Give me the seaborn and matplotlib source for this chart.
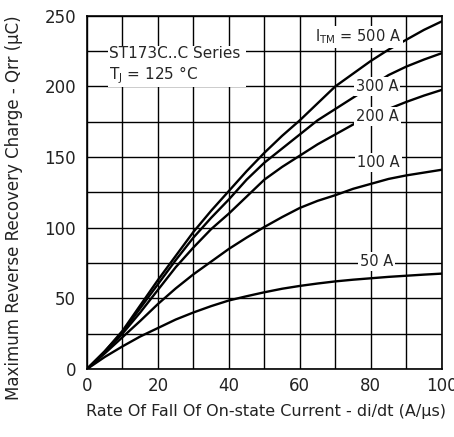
import numpy as np
import pandas as pd
import seaborn as sns
import matplotlib.pyplot as plt
from matplotlib.patches import Rectangle

# di/dt (A/us) sample points
didt = [0, 5, 10, 15, 20, 25, 30, 35, 40, 45, 50,
        55, 60, 65, 70, 75, 80, 85, 90, 95, 100]

# Qrr (uC), one list per I_TM
qrr_500 = [0, 12.5, 27, 45, 63, 80, 97, 112, 126, 140, 153,
           165, 176, 188, 200, 209, 218, 226, 233, 240, 246]
qrr_300 = [0, 12.5, 26, 43, 60, 77, 93, 107, 120, 134, 146,
           156, 166, 176, 184, 192, 200, 208, 214, 219, 223.5]
qrr_200 = [0, 12, 25, 40, 56, 72, 86, 99, 110, 122, 134,
           143, 151, 159, 166, 173, 179, 184, 189, 193.5, 197.5]
qrr_100 = [0, 11, 22.5, 34, 46, 57, 67, 76, 85, 93, 100.5,
           107.5, 114, 119, 123, 127.5, 131, 134.5, 137, 139, 141]
qrr_50 = [0, 8.5, 16, 23, 29, 35, 40, 44.5, 48.5, 51.5, 54.3,
          56.8, 58.8, 60.5, 62, 63.2, 64.2, 65.2, 66, 66.8, 67.5]

series = {"500 A": qrr_500, "300 A": qrr_300, "200 A": qrr_200,
          "100 A": qrr_100, "50 A": qrr_50}

rows = []
for name, vals in series.items():
    for x, y in zip(didt, vals):
        rows.append({"didt": x, "qrr": y, "itm": name})
df = pd.DataFrame(rows)

sns.set_style("white")
plt.rcParams["font.family"] = ["DejaVu Sans"]

fig = plt.figure(figsize=(4.54, 4.37), dpi=100)
ax = fig.add_axes([0.1916, 0.1556, 0.7814, 0.8084])

sns.lineplot(data=df, x="didt", y="qrr", hue="itm", ax=ax,
             palette=["black"] * 5, linewidth=1.7, legend=False, zorder=3)

ax.set_xlim(0, 100)
ax.set_ylim(0, 250)
ax.set_xticks(range(0, 101, 20))
ax.set_yticks(range(0, 251, 50))
ax.set_xticks(range(0, 101, 10), minor=True)
ax.set_yticks(range(0, 251, 25), minor=True)
ax.set_axisbelow(True)
ax.grid(True, which="both", color="black", linewidth=1.0)
ax.tick_params(which="both", length=0, labelsize=12, colors="#222222")
ax.tick_params(axis="y", pad=8)
ax.tick_params(axis="x", pad=6)
for s in ax.spines.values():
    s.set_color("black")
    s.set_linewidth(1.2)

ax.set_xlabel("Rate Of Fall Of On-state Current - di/dt (A/µs)", fontsize=11.5,
              color="#222222")
ax.set_ylabel("Maximum Reverse Recovery Charge - Qrr (µC)", fontsize=12,
              color="#222222")
ax.xaxis.set_label_coords(0.505, -0.1)
ax.yaxis.set_label_coords(-0.18, 0.457)

# white panel behind the series title
ax.add_patch(Rectangle((5.9, 199.4), 38.8, 29.3, facecolor="white",
                       edgecolor="none", zorder=2))
ax.text(6.2, 223, "ST173C..C Series", fontsize=11, ha="left", va="center",
        zorder=4)
ax.text(6.2, 208, "T$_\\mathregular{J}$ = 125 °C", fontsize=11, ha="left",
        va="center", zorder=4)

box = dict(facecolor="white", edgecolor="none", pad=1.5)
ax.text(88.5, 235, "I$_\\mathregular{TM}$ = 500 A", fontsize=10.5, ha="right",
        va="center", bbox=box, zorder=4)
ax.text(81.8, 200, "300 A", fontsize=10.5, ha="center", va="center", bbox=box, zorder=4)
ax.text(81.8, 178.5, "200 A", fontsize=10.5, ha="center", va="center", bbox=box, zorder=4)
ax.text(82.2, 146, "100 A", fontsize=10.5, ha="center", va="center", bbox=box, zorder=4)
ax.text(81.6, 76, "50 A", fontsize=10.5, ha="center", va="center", bbox=box, zorder=4)

fig.savefig("out.png", dpi=100)
